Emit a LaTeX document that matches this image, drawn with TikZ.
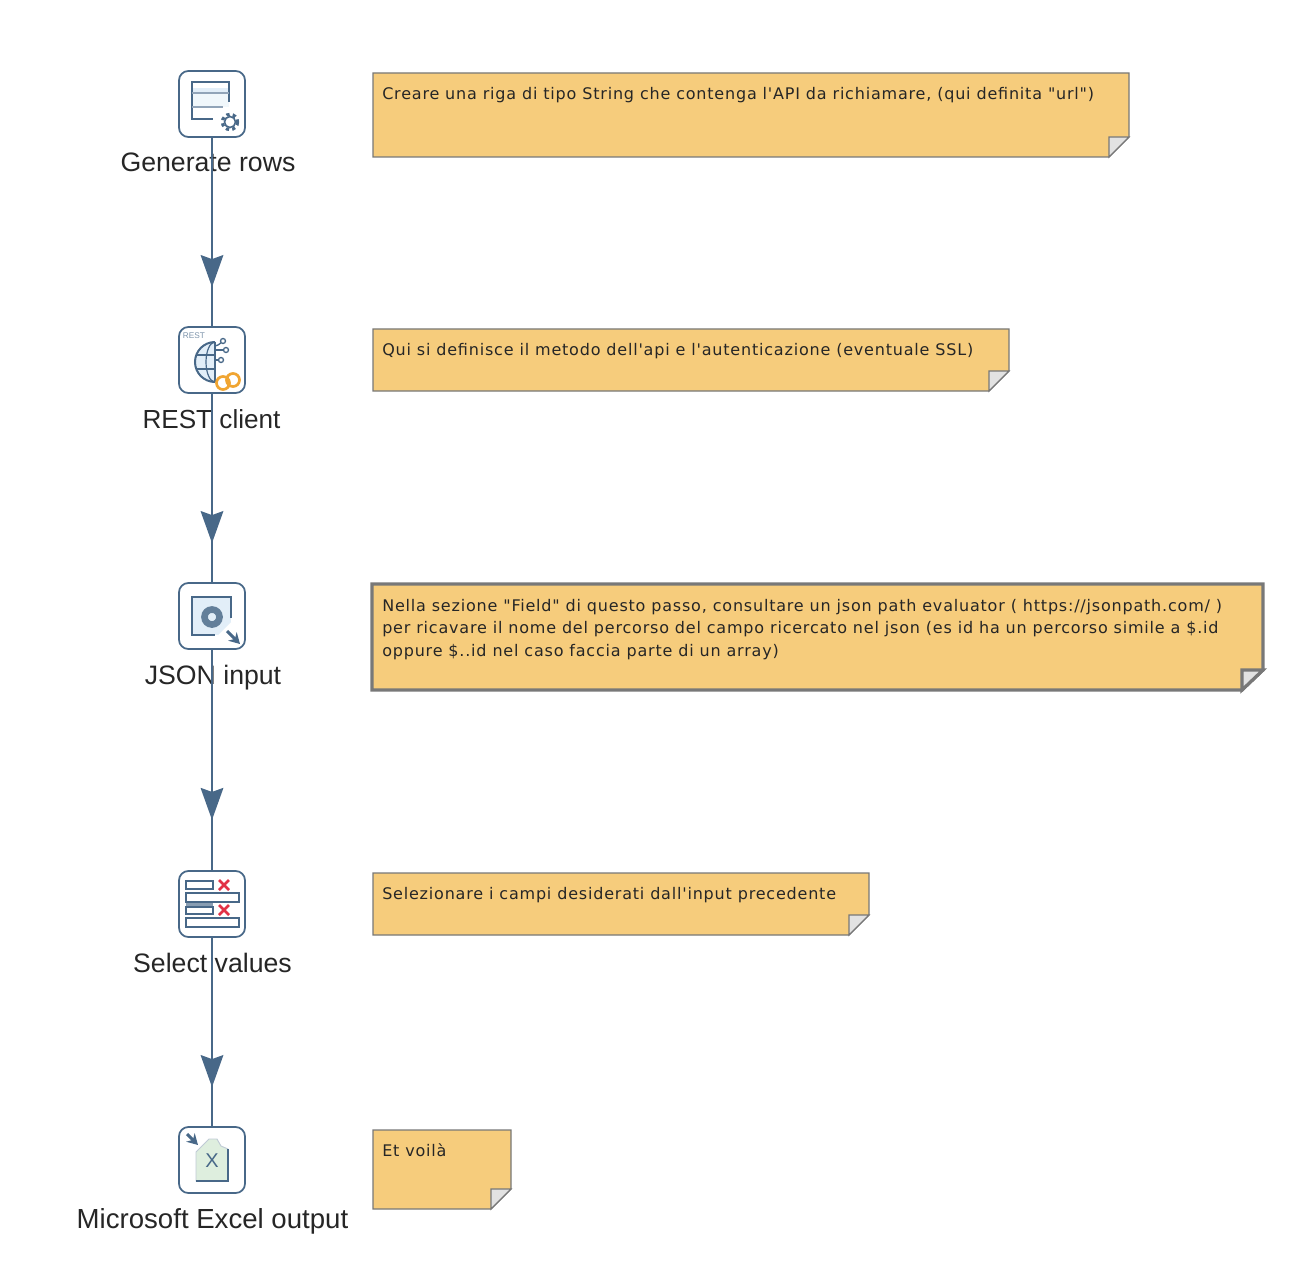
\documentclass[tikz,border=0pt]{standalone}
\usepackage{fontspec}
\setmainfont{Liberation Sans}
\newfontfamily\notefont[LetterSpace=5]{DejaVu Sans}
\usetikzlibrary{arrows.meta,decorations.markings}

\definecolor{hopblue}{RGB}{72,104,136}
\definecolor{notefill}{RGB}{246,204,124}
\definecolor{notegray}{RGB}{120,120,120}
\definecolor{foldgray}{RGB}{226,226,226}
\definecolor{palegreen}{RGB}{222,238,222}
\definecolor{paleblue}{RGB}{226,238,248}
\definecolor{chainorange}{RGB}{240,165,50}
\definecolor{crossred}{RGB}{226,50,70}

\tikzset{
  stepicon/.style={draw=hopblue,line width=1.3,rounded corners=7,fill=white,minimum size=49.5pt,inner sep=0pt,outer sep=0pt},
  steplabel/.style={font=\fontsize{20}{22}\selectfont,text=black!85,anchor=base,inner sep=0pt},
  glyph/.style={draw=hopblue,line width=1.5},
  hop/.style n args={1}{draw=hopblue,line width=1.4,postaction={decorate},
    decoration={markings,mark=at position #1 with {\arrow{Stealth[length=24pt,width=17pt,inset=3pt]}}}},
  notebody/.style={draw=notegray,line width=0.9,fill=notefill},
  notefold/.style={draw=notegray,line width=0.9,fill=foldgray},
  notetext/.style={font=\notefont\fontsize{12}{16.9}\selectfont,text=black!85,anchor=base west,inner sep=0pt,align=left},
}

\begin{document}
\begin{tikzpicture}[x=0.75pt,y=0.75pt,yscale=-1,xscale=1]
\useasboundingbox (0,0) rectangle (1296,1280);

% Notes
\draw [notebody] (373,73) -- (1129,73) -- (1129,137) -- (1109,157) -- (373,157) -- cycle ;
\draw [notefold] (1109,157) -- (1109,137) -- (1129,137) -- cycle ;
\node [notetext] (noteurl) at (382,100) {Creare una riga di tipo String che contenga l'API da richiamare, (qui definita "url")};

\draw [notebody] (373,329) -- (1009,329) -- (1009,371) -- (989,391) -- (373,391) -- cycle ;
\draw [notefold] (989,391) -- (989,371) -- (1009,371) -- cycle ;
\node [notetext] (noteauth) at (382,355) {Qui si definisce il metodo dell'api e l'autenticazione (eventuale SSL)};

\draw [notebody,line width=2.4] (372,584) -- (1263,584) -- (1263,670) -- (1242,690) -- (372,690) -- cycle ;
\draw [notefold,line width=2.4] (1242,690) -- (1242,670) -- (1263,670) -- cycle ;
\node [notetext,anchor=north west] (notefield) at (382,599) {Nella sezione "Field" di questo passo, consultare un json path evaluator ( https://jsonpath.com/ )\\per ricavare il nome del percorso del campo ricercato nel json (es id ha un percorso simile a \$.id\\oppure \$..id nel caso faccia parte di un array)};

\draw [notebody] (373,873) -- (869,873) -- (869,915) -- (849,935) -- (373,935) -- cycle ;
\draw [notefold] (849,935) -- (849,915) -- (869,915) -- cycle ;
\node [notetext] (noteselect) at (382,899) {Selezionare i campi desiderati dall'input precedente};

\draw [notebody] (373,1130) -- (511,1130) -- (511,1189) -- (491,1209) -- (373,1209) -- cycle ;
\draw [notefold] (491,1209) -- (491,1189) -- (511,1189) -- cycle ;
\node [notetext] (notevoila) at (382,1156) {Et voilà};

% Labels
\node [steplabel] (genlabel) at (208,172) {Generate rows};
\node [steplabel,font=\fontsize{19.6}{22}\selectfont] (restlabel) at (211.5,428) {REST client};
\node [steplabel] (jsonlabel) at (213,684) {JSON input};
\node [steplabel] (selectlabel) at (212.5,972) {Select values};
\node [steplabel,font=\fontsize{20.7}{22}\selectfont] (excellabel) at (212.5,1228) {Microsoft Excel output};

% Steps
\node [stepicon] (genrows) at (212,104) {};
\node [stepicon] (restclient) at (212,360) {};
\node [stepicon] (jsoninput) at (212,616) {};
\node [stepicon] (selectvalues) at (212,904) {};
\node [stepicon] (exceloutput) at (212,1160) {};

% Hops
\draw [hop=0.79] (genrows) -- (restclient);
\draw [hop=0.79] (restclient) -- (jsoninput);
\draw [hop=0.77] (jsoninput) -- (selectvalues);
\draw [hop=0.79] (selectvalues) -- (exceloutput);

% Generate rows icon
\begin{scope}[shift={(genrows.center)}]
\fill [paleblue] (-20,-16) rectangle (17,-11);
\fill [paleblue!50] (-20,-11) rectangle (17,3);
\draw [glyph] (17,-2) -- (17,-22) -- (-20,-22) -- (-20,15) -- (1,15);
\draw [glyph,line width=0.8,draw=hopblue!60] (-20,-11) -- (17,-11) (-20,3) -- (11,3);
\fill [white] (9,9) rectangle (27,27);
\draw [glyph,line width=1.2] (18,18) circle (5.5);
\draw [glyph,line width=2.4,dash pattern=on 2.4pt off 2.4pt] (18,18) circle (7.6);
\end{scope}

% REST client icon
\begin{scope}[shift={(restclient.center)}]
\fill [paleblue] (3,22) arc (90:270:20) -- cycle;
\draw [glyph] (3,22) arc (90:270:20);
\draw [glyph,line width=0.9] (3,22) arc (90:270:9 and 20);
\draw [glyph,line width=0.9] (3,-18) -- (3,22) (-15,-5) -- (3,-5) (-15,9) -- (3,9);
\draw [glyph,line width=1] (3,-14) .. controls (8,-15) and (9,-18) .. (11,-19);
\draw [glyph,line width=1] (3,-10) -- (14,-10);
\draw [glyph,line width=1] (3,0) -- (9,0);
\draw [hopblue,line width=1,fill=white] (11,-19) circle (2.5) (14,-10) circle (2.5) (9,0) circle (2.5);
\draw [chainorange,line width=2] (11,23) circle (6.5) (21,20) circle (6.5);
\node [font=\fontsize{6.2}{7}\selectfont,text=hopblue!70,inner sep=0pt] (resttag) at (-18,-24) {REST};
\end{scope}

% JSON input icon
\begin{scope}[shift={(jsoninput.center)}]
\fill [paleblue] (-20,-19) rectangle (19,19);
\fill [white] (6,6) rectangle (19,19);
\fill [paleblue] (6,6) -- (19,6) -- (6,19) -- cycle;
\draw [glyph] (19,2) -- (19,-19) -- (-20,-19) -- (-20,19) -- (3,19);
\draw [hopblue!85,line width=5] (0,1) circle (7.5);
\draw [glyph,line width=2.2,-{Stealth[length=8pt,width=9pt]}] (15,15) -- (28,28);
\end{scope}

% Select values icon
\begin{scope}[shift={(selectvalues.center)}]
\draw [glyph] (-26,-23) rectangle (1,-15);
\fill [hopblue!65] (-26,-2) rectangle (1,3);
\draw [glyph,fill=white] (-26,-11) rectangle (27,-2);
\draw [glyph] (-26,3) rectangle (1,10);
\draw [glyph] (-26,14) rectangle (27,23);
\draw [crossred,line width=2] (7,-24) -- (17,-14) (7,-14) -- (17,-24);
\draw [crossred,line width=2] (7,1) -- (17,11) (7,11) -- (17,1);
\end{scope}

% Microsoft Excel output icon
\begin{scope}[shift={(exceloutput.center)}]
\draw [glyph,fill=palegreen,line width=0.7,draw=hopblue!35] (-16,21) -- (-16,-8) -- (-3,-21) -- (5,-21) -- (9,-14) -- (16,-11) -- (16,21) -- cycle;
\draw [glyph] (-16,21) -- (16,21) -- (16,-11);
\node [font=\fontsize{15}{16}\selectfont,text=hopblue,inner sep=0pt] (excelmark) at (0,1) {X};
\draw [glyph,line width=2.2,-{Stealth[length=8pt,width=9pt]}] (-25,-26) -- (-14,-15);
\end{scope}

\end{tikzpicture}
\end{document}
